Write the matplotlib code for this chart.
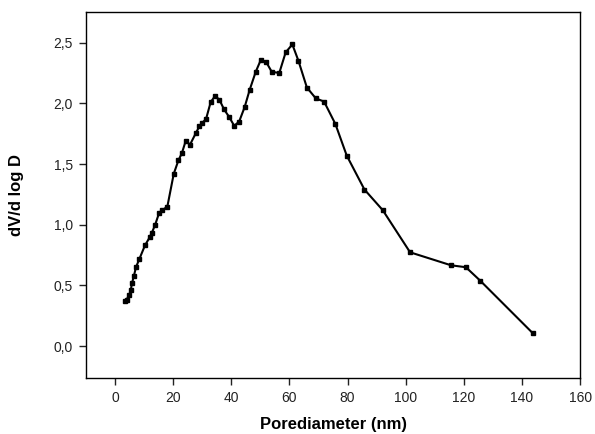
import matplotlib
matplotlib.use("Agg")
import matplotlib.pyplot as plt
from matplotlib.ticker import FuncFormatter

pore_diameter = [3.4, 4.0, 4.9, 5.4, 5.85, 6.5, 7.2, 8.4, 10.3, 12.0, 12.6, 13.8, 15.2, 16.3, 18.0,
                 20.2, 21.8, 23.0, 24.3, 25.8, 27.8, 29.0, 30.0, 31.3, 32.9, 34.4, 35.9, 37.5,
                 39.2, 41.0, 42.7, 44.6, 46.3, 48.4, 50.1, 52.0, 53.9, 56.5, 58.7, 61.0, 63.1,
                 66.0, 69.1, 71.9, 75.8, 79.7, 85.8, 92.1, 101.5, 115.6, 120.7, 125.6, 143.7]
dv_dlogd = [0.37, 0.384, 0.425, 0.46, 0.52, 0.58, 0.65, 0.72, 0.83, 0.90, 0.93, 1.0, 1.10, 1.12, 1.15,
            1.42, 1.53, 1.59, 1.69, 1.66, 1.755, 1.81, 1.84, 1.87, 2.01, 2.06, 2.03, 1.95,
            1.89, 1.815, 1.85, 1.97, 2.11, 2.26, 2.355, 2.34, 2.26, 2.25, 2.42, 2.485, 2.35,
            2.13, 2.04, 2.015, 1.83, 1.57, 1.29, 1.12, 0.773, 0.666, 0.65, 0.54, 0.107]

x_ticks = [0, 20, 40, 60, 80, 100, 120, 140, 160]
y_ticks = [0.0, 0.5, 1.0, 1.5, 2.0, 2.5]

plt.rcParams['font.family'] = ['Liberation Sans', 'DejaVu Sans']

fig = plt.figure(figsize=(5.95, 4.34), dpi=100)
ax = fig.add_axes([0.1445, 0.1297, 0.8305, 0.842])
ax.plot(pore_diameter, dv_dlogd, color='black', linewidth=1.5, marker='s', markersize=3.2)
ax.set_xlim(-10, 160)
ax.set_ylim(-0.26, 2.75)
ax.set_xticks(x_ticks)
ax.set_yticks(y_ticks)
ax.yaxis.set_major_formatter(FuncFormatter(lambda v, p: f"{v:.1f}".replace('.', ',')))
ax.tick_params(direction='out', length=5, width=1, labelsize=10, colors='#222222', pad=4.5)
for s in ax.spines.values():
    s.set_linewidth(1.0)
ax.set_xlabel('Porediameter (nm)', fontsize=12, fontweight='bold', labelpad=9)
ax.set_ylabel('dV/d log D', fontsize=12, fontweight='bold', labelpad=21)
fig.savefig('out.png', dpi=100)
